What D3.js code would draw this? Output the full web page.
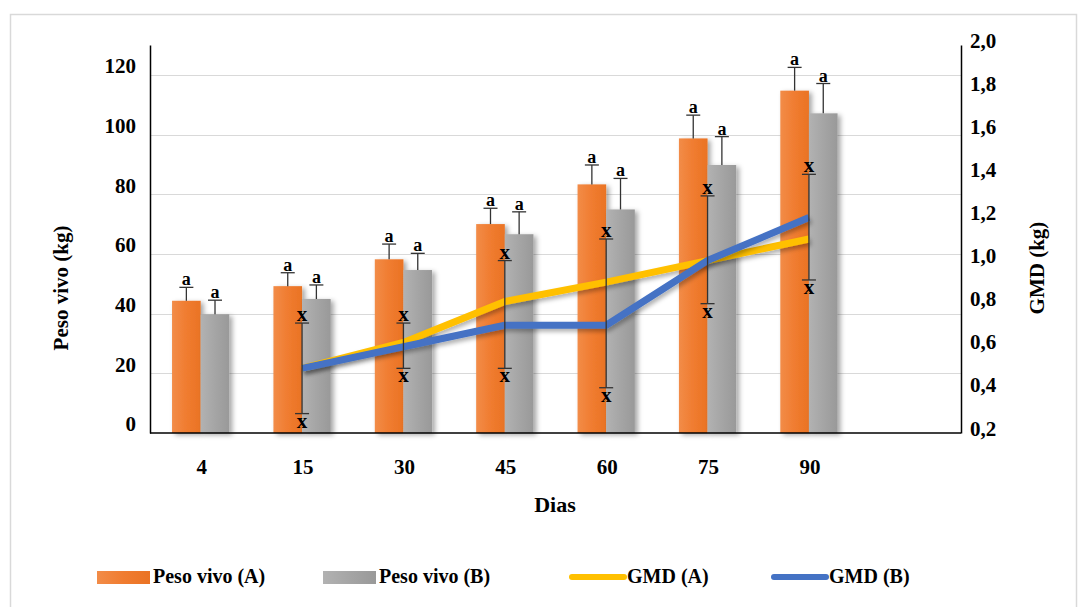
<!DOCTYPE html>
<html>
<head>
<meta charset="utf-8">
<script src="https://cdn.jsdelivr.net/npm/d3@7"></script>
<style>
  html, body { margin: 0; padding: 0; background: #fff; }
  svg { display: block; }
  text { font-family: "Liberation Serif", "Times New Roman", serif; font-weight: bold; fill: #000; }
</style>
</head>
<body>
<svg id="chart" width="1079" height="607"></svg>
<script>
// Dias de avaliação
const days = ["4", "15", "30", "45", "60", "75", "90"];

// Peso vivo (kg) médio e desvio de cada grupo
const pesoA = [44.3, 49.2, 58.2, 70.0, 83.3, 98.7, 114.7];
const pesoB = [39.8, 44.9, 54.6, 66.6, 74.9, 89.8, 107.1];
const erroA = [4.5, 4.5, 5.1, 5.3, 6.5, 7.8, 7.8];
const erroB = [4.7, 4.7, 5.6, 7.5, 10.4, 9.5, 10.0];

// Ganho médio diário (kg/dia)
const gmdA = [null, 0.50, 0.62, 0.81, 0.90, 1.00, 1.10];
const gmdB = [null, 0.50, 0.60, 0.70, 0.70, 1.00, 1.20];
// Faixa de variação do GMD
const gmdMin = [null, 0.29, 0.50, 0.50, 0.41, 0.80, 0.91];
const gmdMax = [null, 0.71, 0.71, 1.00, 1.10, 1.30, 1.40];

const leftTicks = [0, 20, 40, 60, 80, 100, 120];
const rightTicks = [0.2, 0.4, 0.6, 0.8, 1.0, 1.2, 1.4, 1.6, 1.8, 2.0];

const svg = d3.select("#chart");
const plot = { left: 150, right: 961, top: 45, bottom: 433 };
const slot = (plot.right - plot.left) / 8; // one spare slot on the right

const x = d3.scaleBand().domain(days).range([plot.left, plot.left + slot * days.length]).padding(0);
const bw = x.bandwidth();
const xs = d3.scaleBand().domain(["A", "B"]).range([bw * 0.2175, bw * 0.7825]).padding(0);
const y = d3.scaleLinear().domain([0, 130]).range([plot.bottom, plot.top]);
const y2 = d3.scaleLinear().domain([0.2, 2.0]).range([plot.bottom, plot.top]);
const fmt = d => d.toFixed(1).replace(".", ",");

// definitions: gradients and shadows
const defs = svg.append("defs");
function grad(id, c0, c1, c2) {
  const g = defs.append("linearGradient").attr("id", id).attr("x1", 0).attr("x2", 1).attr("y1", 0).attr("y2", 0);
  g.append("stop").attr("offset", "0%").attr("stop-color", c0);
  g.append("stop").attr("offset", "50%").attr("stop-color", c1);
  g.append("stop").attr("offset", "100%").attr("stop-color", c2);
}
grad("gA", "#f28c48", "#f07c30", "#ea7324");
grad("gB", "#b2b2b2", "#a5a5a5", "#999999");
const sh = defs.append("filter").attr("id", "shadow").attr("x", "-30%").attr("y", "-10%").attr("width", "160%").attr("height", "120%");
sh.append("feDropShadow").attr("dx", 3).attr("dy", 2).attr("stdDeviation", 2.5).attr("flood-color", "#000").attr("flood-opacity", 0.35);
const shl = defs.append("filter").attr("id", "lshadow").attr("x", "-10%").attr("y", "-30%").attr("width", "120%").attr("height", "160%");
shl.append("feDropShadow").attr("dx", 2).attr("dy", 3).attr("stdDeviation", 2).attr("flood-color", "#000").attr("flood-opacity", 0.3);

// frame
svg.append("rect").attr("x", 10.5).attr("y", 14.5).attr("width", 1066).attr("height", 620)
  .attr("fill", "none").attr("stroke", "#d9d9d9").attr("stroke-width", 1.5);

// gridlines
svg.append("g").selectAll("line").data(leftTicks.filter(t => t > 0)).join("line")
  .attr("x1", plot.left).attr("x2", plot.right)
  .attr("y1", d => Math.round(y(d)) + 0.5).attr("y2", d => Math.round(y(d)) + 0.5)
  .attr("stroke", "#d9d9d9").attr("stroke-width", 1.2);

// bars
const rows = days.map((d, i) => ({ d, i }));
const groups = svg.append("g").selectAll("g").data(rows).join("g")
  .attr("transform", r => `translate(${x(r.d)},0)`);
groups.append("rect")
  .attr("x", xs("A")).attr("width", xs.bandwidth())
  .attr("y", r => y(pesoA[r.i])).attr("height", r => y(0) - y(pesoA[r.i]))
  .attr("fill", "url(#gA)").attr("filter", "url(#shadow)");
groups.append("rect")
  .attr("x", xs("B")).attr("width", xs.bandwidth())
  .attr("y", r => y(pesoB[r.i])).attr("height", r => y(0) - y(pesoB[r.i]))
  .attr("fill", "url(#gB)").attr("filter", "url(#shadow)");

// bar error bars with letters
function barErr(key, vals, errs) {
  const cx = xs(key) + xs.bandwidth() / 2;
  const g = groups.append("g").attr("transform", `translate(${cx},0)`);
  g.append("line").attr("x1", 0).attr("x2", 0)
    .attr("y1", r => y(vals[r.i])).attr("y2", r => y(vals[r.i] + errs[r.i]))
    .attr("stroke", "#333").attr("stroke-width", 1.3);
  g.append("line").attr("x1", -7).attr("x2", 7)
    .attr("y1", r => y(vals[r.i] + errs[r.i])).attr("y2", r => y(vals[r.i] + errs[r.i]))
    .attr("stroke", "#333").attr("stroke-width", 1.3);
  g.append("text").attr("x", 0).attr("y", r => y(vals[r.i] + errs[r.i]) - 2)
    .attr("text-anchor", "middle").attr("font-size", 18).text("a");
}
barErr("A", pesoA, erroA);
barErr("B", pesoB, erroB);

// GMD lines
const cx = d => x(d) + bw / 2;
const lineA = d3.line().defined(r => gmdA[r.i] != null).x(r => cx(r.d)).y(r => y2(gmdA[r.i]));
const lineB = d3.line().defined(r => gmdB[r.i] != null).x(r => cx(r.d)).y(r => y2(gmdB[r.i]));
svg.append("path").datum(rows).attr("d", lineA).attr("fill", "none")
  .attr("stroke", "#FFC000").attr("stroke-width", 7).attr("stroke-linejoin", "round").attr("filter", "url(#lshadow)");
svg.append("path").datum(rows).attr("d", lineB).attr("fill", "none")
  .attr("stroke", "#4472C4").attr("stroke-width", 7).attr("stroke-linejoin", "round").attr("filter", "url(#lshadow)");

// GMD range bars
const rg = svg.append("g").selectAll("g").data(rows.filter(r => gmdMin[r.i] != null)).join("g")
  .attr("transform", r => `translate(${cx(r.d)},0)`);
rg.append("line").attr("x1", 0).attr("x2", 0)
  .attr("y1", r => y2(gmdMin[r.i])).attr("y2", r => y2(gmdMax[r.i]))
  .attr("stroke", "#333").attr("stroke-width", 1.3);
rg.append("line").attr("x1", -7).attr("x2", 7)
  .attr("y1", r => y2(gmdMax[r.i])).attr("y2", r => y2(gmdMax[r.i]))
  .attr("stroke", "#333").attr("stroke-width", 1.3);
rg.append("line").attr("x1", -7).attr("x2", 7)
  .attr("y1", r => y2(gmdMin[r.i])).attr("y2", r => y2(gmdMin[r.i]))
  .attr("stroke", "#333").attr("stroke-width", 1.3);
rg.append("text").attr("x", 0).attr("y", r => y2(gmdMax[r.i]) - 2)
  .attr("text-anchor", "middle").attr("font-size", 21).text("x");
rg.append("text").attr("x", 0).attr("y", r => y2(gmdMin[r.i]) + 14)
  .attr("text-anchor", "middle").attr("font-size", 21).text("x");

// axes
const axL = d3.axisLeft(y).tickValues(leftTicks).tickSize(0).tickPadding(14);
const gL = svg.append("g").attr("transform", `translate(${plot.left},0)`).call(axL);
gL.select(".domain").attr("stroke", "#000").attr("stroke-width", 1.5);
gL.selectAll("text").attr("font-size", 21).attr("dy", "-0.1em").attr("fill", "#000")
  .style("font-family", "Liberation Serif").style("font-weight", "bold");

const axR = d3.axisRight(y2).tickValues(rightTicks).tickFormat(fmt).tickSize(0).tickPadding(9);
const gR = svg.append("g").attr("transform", `translate(${plot.right},0)`).call(axR);
gR.select(".domain").attr("stroke", "#000").attr("stroke-width", 1.5);
gR.selectAll("text").attr("font-size", 21).attr("dy", "0.1em").attr("fill", "#000")
  .style("font-family", "Liberation Serif").style("font-weight", "bold");

svg.append("line").attr("x1", plot.left).attr("x2", plot.right)
  .attr("y1", plot.bottom).attr("y2", plot.bottom).attr("stroke", "#000").attr("stroke-width", 1.5);

svg.append("g").selectAll("text").data(days).join("text")
  .attr("x", d => cx(d) + 1).attr("y", 474).attr("text-anchor", "middle")
  .attr("font-size", 21).text(d => d);

// titles
svg.append("text").attr("x", 555).attr("y", 512).attr("text-anchor", "middle").attr("font-size", 22).text("Dias");
svg.append("text").attr("transform", "translate(68,288) rotate(-90)").attr("text-anchor", "middle")
  .attr("font-size", 21).text("Peso vivo (kg)");
svg.append("text").attr("transform", "translate(1044,268) rotate(-90)").attr("text-anchor", "middle")
  .attr("font-size", 21).text("GMD (kg)");

// legend
const legend = [
  { label: "Peso vivo (A)", type: "rect", color: "url(#gA)", x: 97 },
  { label: "Peso vivo (B)", type: "rect", color: "url(#gB)", x: 323 },
  { label: "GMD (A)", type: "line", color: "#FFC000", x: 571 },
  { label: "GMD (B)", type: "line", color: "#4472C4", x: 773 }
];
const lg = svg.append("g").selectAll("g").data(legend).join("g")
  .attr("transform", d => `translate(${d.x},577)`);
lg.filter(d => d.type === "rect").append("rect")
  .attr("x", 0).attr("y", -6).attr("width", 53).attr("height", 13).attr("fill", d => d.color);
lg.filter(d => d.type === "line").append("line")
  .attr("x1", 1).attr("x2", 53).attr("y1", 0).attr("y2", 0)
  .attr("stroke", d => d.color).attr("stroke-width", 6).attr("stroke-linecap", "round");
lg.append("text").attr("x", 56).attr("y", 6).attr("font-size", 20).text(d => d.label);
</script>
</body>
</html>
